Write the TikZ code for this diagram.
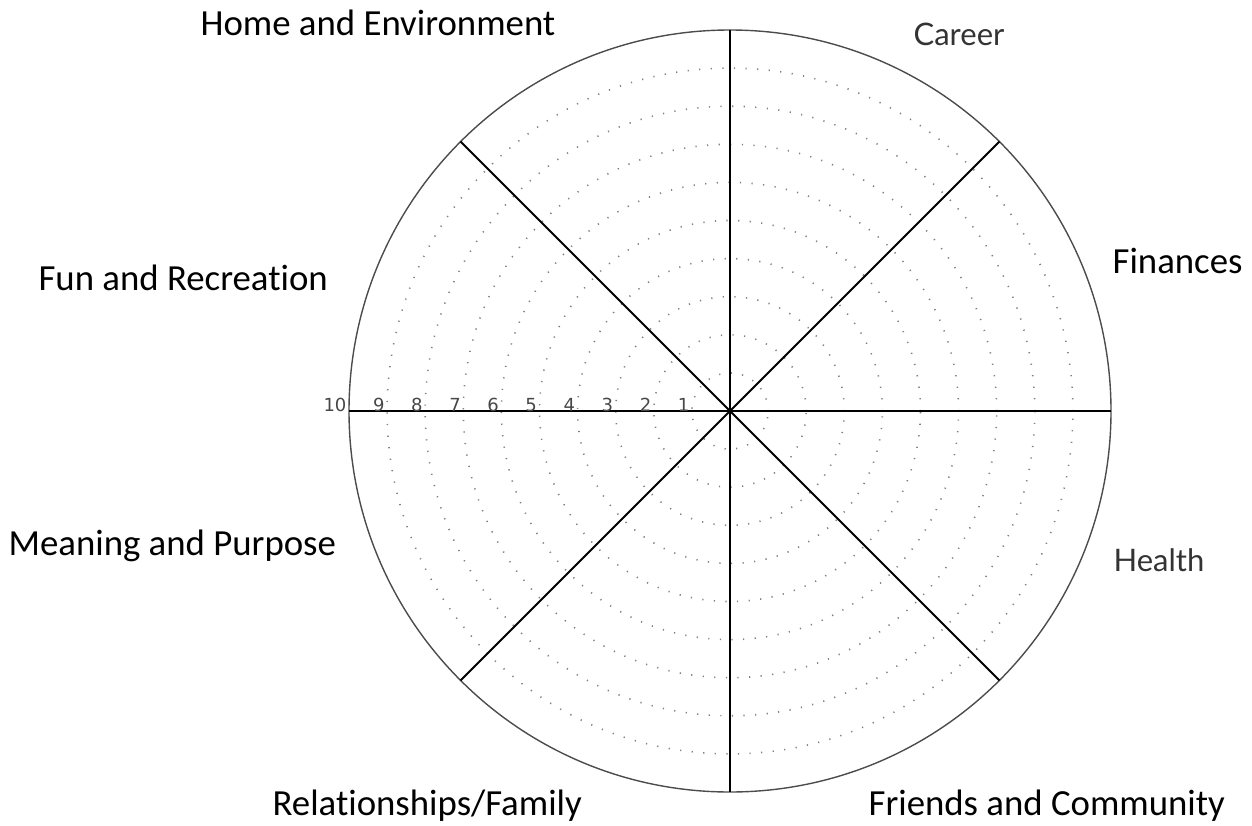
\documentclass[tikz,border=0pt]{standalone}
\usepackage{fontspec}
\setmainfont[Ligatures=NoCommon]{Carlito}
\newfontfamily\lblfont{Lato}
\newfontfamily\numfont{DejaVu Sans}
\usetikzlibrary{positioning,calc}

\begin{document}
\begin{tikzpicture}[x=0.5pt,y=-0.5pt,semithick,
    area/.style={inner sep=0pt,anchor=base west,font=\fontsize{18.4}{22}\selectfont},
    areagray/.style={inner sep=0pt,anchor=base west,text=black!80,font=\lblfont\fontsize{15.5}{18}\selectfont},
    numlbl/.style={inner sep=1pt,anchor=south east,text=black!72,font=\numfont\fontsize{9}{10}\selectfont},
    ring/.style={gray,line width=0.8pt,dash pattern=on 0.6pt off 5.2pt},
    spoke/.style={black,line width=1pt}]
      \useasboundingbox (0,0) rectangle (1252,825);
      \coordinate (ctr) at (730,411);

      % score rings
      \foreach \k in {1,...,9}
        \draw[ring] (ctr) circle[radius=19.05pt*\k];
      \draw[black!70,line width=0.7pt] (ctr) circle[radius=190.5pt];

      % spokes
      \foreach \a in {0,45,...,315}
        \coordinate (r\a) at ($(ctr)+(\a:190.5pt)$);
      \path[spoke] (r0) edge (r180)
             (r90) edge (r270)
             (r45) edge (r225)
             (r135) edge (r315);

      % scale
      \foreach \k in {1,...,10}
        \node[numlbl] (n\k) at ($(ctr)+(-19.05pt*\k,-1.5pt)$) {\k};

      % areas
      \node[area] (home) at (200,35) {Home and Environment};
      \node[areagray] (career) at (913,45) {Career};
      \node[area] (finances) at (1112,273) {Finances};
      \node[area] (fun) at (38,290) {Fun and Recreation};
      \node[area] (meaning) at (8,555) {Meaning and Purpose};
      \node[areagray] (health) at (1113,571) {Health};
      \node[area] (family) at (272,815) {Relationships/Family};
      \node[area] (friends) at (868,815) {Friends and Community};
    \end{tikzpicture}
\end{document}
